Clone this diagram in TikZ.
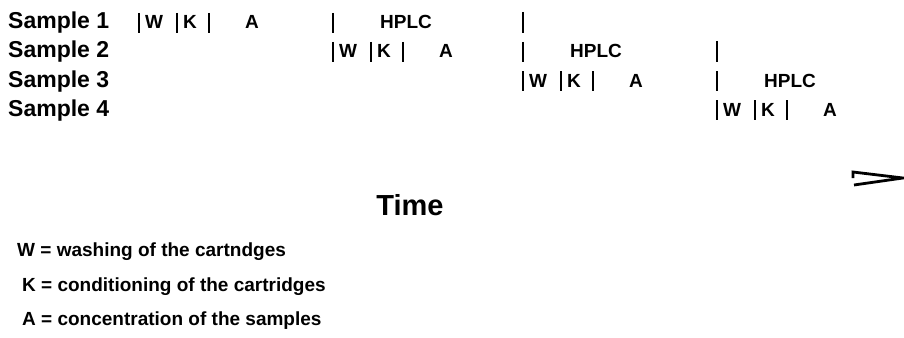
\documentclass[tikz,border=0pt]{standalone}
\usepackage{fontspec}
\setmainfont{Liberation Sans}
\tikzset{
  lbl/.style={inner sep=0pt, anchor=base west, font=\bfseries\fontsize{23}{24}\selectfont},
  let/.style={inner sep=0pt, anchor=base, font=\bfseries\fontsize{19}{20}\selectfont},
  leg/.style={inner sep=0pt, anchor=base west, font=\bfseries\fontsize{19}{20}\selectfont},
  barline/.style={line width=2.8pt},
}
\begin{document}
\begin{tikzpicture}[x=1pt,y=-1pt]
\useasboundingbox (0,0) rectangle (904,337);
% sample labels
\node[lbl] (s1) at (8,29) {Sample 1};
\node[lbl] (s2) at (8,58) {Sample 2};
\node[lbl] (s3) at (8,87) {Sample 3};
\node[lbl] (s4) at (8,116) {Sample 4};
% cycles: x0 and baseline
\foreach \i/\xo/\yb in {1/139/29, 2/333/58, 3/523/87, 4/717/116}{
  \draw[barline] (\xo,\yb-16) -- (\xo,\yb+4);
  \node[let] (w\i) at (\xo+15,\yb) {W};
  \draw[barline] (\xo+38,\yb-16) -- (\xo+38,\yb+4);
  \node[let] (k\i) at (\xo+51,\yb) {K};
  \draw[barline] (\xo+70,\yb-16) -- (\xo+70,\yb+4);
  \node[let] (a\i) at (\xo+113,\yb) {A};
}
% HPLC phases
\foreach \i/\xs/\yb in {1/333/29, 2/523/58, 3/717/87}{
  \draw[barline] (\xs,\yb-16) -- (\xs,\yb+4);
  \node[let] (h\i) at (\xs+73,\yb) {HPLC};
}
\foreach \xe/\yb in {523/29, 717/58}{
  \draw[barline] (\xe,\yb-17) -- (\xe,\yb+4);
}
% time arrow head
\draw[line width=2.8pt, line join=miter] (853,178) -- (853,172) -- (903,178) -- (854,185);
\node[inner sep=0pt, anchor=base, font=\bfseries\fontsize{29}{30}\selectfont] (time) at (410,215) {Time};
% legend
\node[leg] (lw) at (17,256) {W = washing of the cartndges};
\node[leg] (lk) at (22,291) {K = conditioning of the cartridges};
\node[leg] (la) at (22,325) {A = concentration of the samples};
\end{tikzpicture}
\end{document}
